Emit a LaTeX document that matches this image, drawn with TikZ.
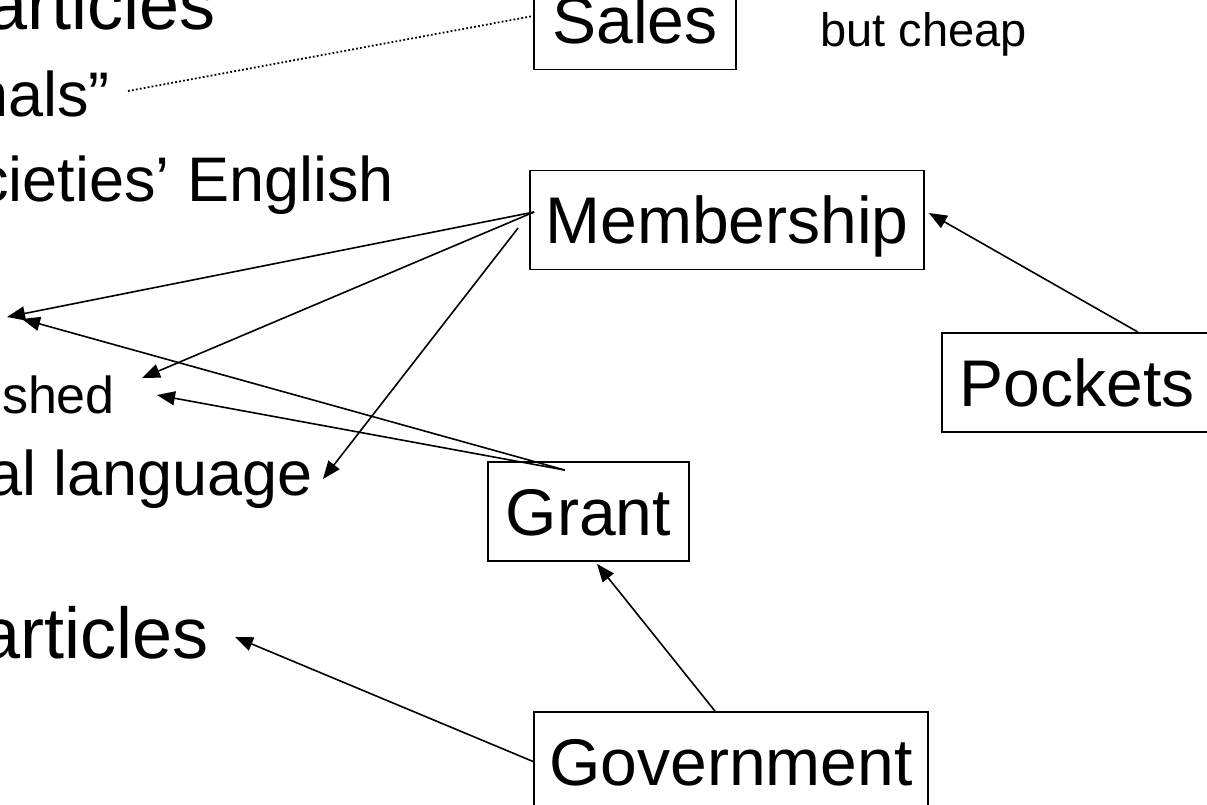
\documentclass[tikz,border=0pt]{standalone}
\usepackage{fontspec}
\setmainfont{Liberation Sans}
\usetikzlibrary{arrows.meta}

\begin{document}
\begin{tikzpicture}[x=1pt,y=-1pt,
  box/.style={draw,line width=1.8pt,inner sep=0pt,font=\fontsize{66}{70}\selectfont,text height=47pt,text depth=0pt,minimum height=99pt},
  bigtext/.style={inner sep=0pt,anchor=base east,font=\fontsize{63}{70}\selectfont},
  hugetext/.style={inner sep=0pt,anchor=base east,font=\fontsize{72}{80}\selectfont},
  smalltext/.style={inner sep=0pt,font=\fontsize{47}{55}\selectfont},
  arr/.style={-{Triangle[length=18pt,width=14pt]},line width=1.6pt}]
\useasboundingbox (0,0) rectangle (1207,805); % --- slide cut-out
\clip (0,0) rectangle (1207,805);

% --- the boxes
\node[box,minimum width=202pt] (sales) at (635,20) {Sales};
\node[box,minimum width=394pt] (membership) at (727,220) {Membership};
\node[box,minimum width=270pt] (pockets) at (1077,382.5) {Pockets};
\node[box,minimum width=201pt] (grant) at (588.5,511.5) {Grant};
\node[box,minimum width=394pt] (government) at (731,761.5) {Government};

% --- text on the left, cut by the edge
\node[hugetext] (articlesA) at (216,30) {articles};
\node[bigtext] (journals) at (110,117) {nals”};
\node[bigtext] (english) at (394,202) {cieties’ English};
\node[smalltext,anchor=base east,font=\fontsize{52}{60}\selectfont] (shed) at (115,413) {shed};
\node[bigtext] (language) at (313,495) {al language};
\node[hugetext] (articlesB) at (209,658) {articles};
\node[smalltext,anchor=base west] (cheap) at (820,47) {but cheap};

% --- free ends of the arrows
\coordinate (tipA) at (7,317);
\coordinate (tipB) at (22,319);
\coordinate (tipC) at (142,378);
\coordinate (tipD) at (157,395);
\coordinate (tipE) at (323,479);
\coordinate (tipF) at (235,637);
\coordinate (dotend) at (128,91);

\draw[arr] ([shift={(5,-8)}]membership.west) -- (tipA); % membership arrows
\draw[arr] ([shift={(5,-8)}]membership.west) -- (tipC);
\draw[arr] ([shift={(-11,8)}]membership.west) -- (tipE);
\draw[arr] ([shift={(-23.5,9)}]grant.north) -- (tipB); % grant arrows
\draw[arr] ([shift={(-23.5,9)}]grant.north) -- (tipD);
\draw[arr] ([shift={(61,0)}]pockets.north) -- ([shift={(4,-7)}]membership.east);
\draw[arr] ([shift={(-16,0)}]government.north) -- ([shift={(8.5,2)}]grant.south);
\draw[arr] (government.west) -- (tipF);
\draw[line width=1.8pt,dash pattern=on 1.8pt off 2.2pt] (dotend) -- ([shift={(0,-4)}]sales.west); % --- dotted to sales
\end{tikzpicture}
\end{document}
